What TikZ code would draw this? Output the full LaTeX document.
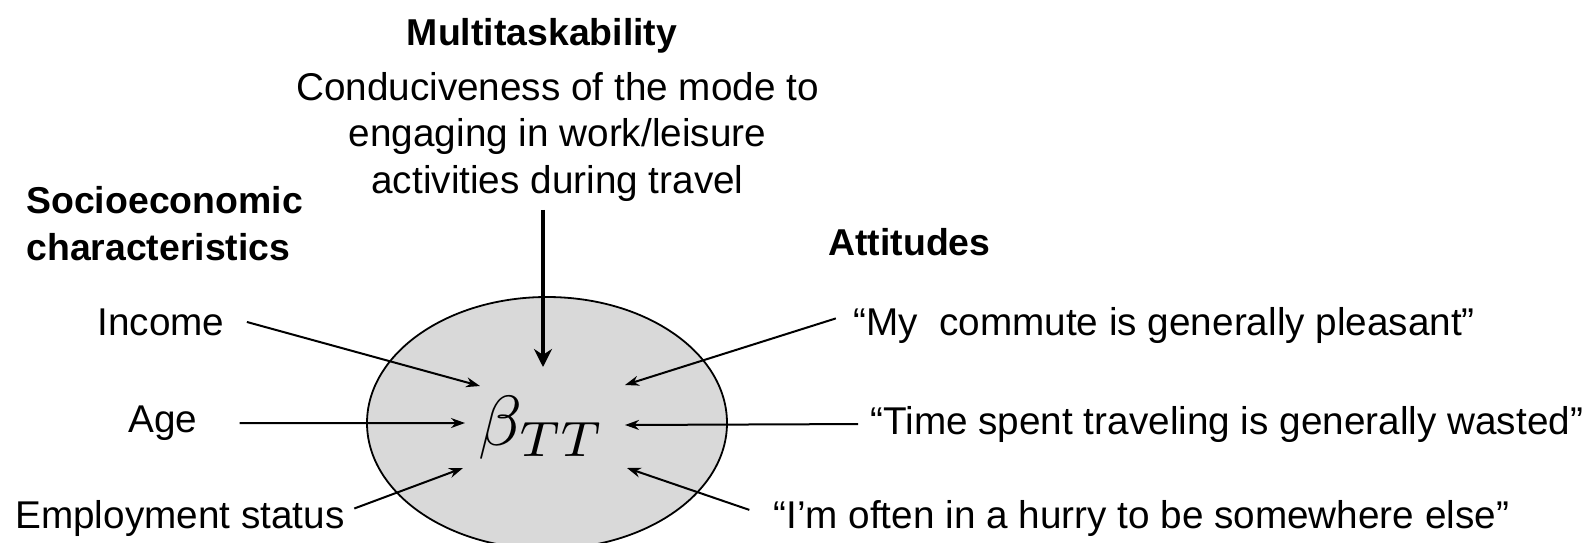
\documentclass[tikz,border=0pt]{standalone}
\usepackage{amsmath}
\usepackage{graphicx}
\usepackage{fontspec}
\setmainfont{Liberation Sans}
\usetikzlibrary{arrows.meta,shapes.geometric}

\begin{document}
\begin{tikzpicture}[x=0.5pt,y=-0.5pt,
    txt/.style={font=\fontsize{19.35}{23.25}\selectfont,inner sep=0pt},
    hdr/.style={font=\fontsize{18.7}{23.5}\selectfont\bfseries,inner sep=0pt},
    feed/.style={line width=1pt,-{Stealth[length=7pt,width=5pt]}},
    mfeed/.style={line width=2.2pt,-{Stealth[length=9pt,width=9pt]}}]
\useasboundingbox (0,0) rectangle (1592,542);
\node[ellipse,draw,line width=0.9pt,fill=gray!30,minimum width=180pt,minimum height=126pt,inner sep=0pt] (oval) at (547,423) {};
\node[inner sep=0pt] (beta) at (542,428) {\scalebox{3.55}{$\beta_{TT}$}};
\node[hdr,anchor=base] (multi) at (542,45) {Multitaskability};
\node[txt,align=center,anchor=north] (cond) at (557.5,72) {Conduciveness of the mode to\\engaging in work/leisure\\activities during travel};
\node[hdr,align=left,anchor=north west] (socio) at (26,186) {Socioeconomic\\characteristics};
\node[hdr,anchor=base west] (att) at (828,255) {Attitudes};
\node[txt,anchor=base west] (inc) at (97,335) {Income};
\node[txt,anchor=base west] (age) at (128,432.5) {Age};
\node[txt,anchor=base west] (emp) at (15,528) {Employment status};
\node[txt,anchor=base west] (com) at (853,335) {“My~ commute is generally pleasant”};
\node[txt,anchor=base west] (tim) at (870,434) {“Time spent traveling is generally wasted”};
\node[txt,anchor=base west] (hur) at (773,528) {“I’m often in a hurry to be somewhere else”};
\coordinate (tInc) at (480,386);
\coordinate (tAge) at (465,423);
\coordinate (tEmp) at (463,468);
\coordinate (tMul) at (543,367);
\coordinate (tCom) at (625,385);
\coordinate (tTim) at (625,425);
\coordinate (tHur) at (627,468);
\path[mfeed] (cond.south -| tMul) edge[shorten <=4pt] (tMul);
\path[feed] ([yshift=3pt]inc.east) edge[shorten <=11.5pt] (tInc);
\path[feed] (age.east) edge[shorten <=21pt] (tAge);
\path[feed] ([yshift=3pt]emp.east) edge[shorten <=5pt] (tEmp);
\path[feed] ([yshift=6pt]com.west) edge[shorten <=9pt] (tCom);
\path[feed] (tim.west) edge[shorten <=6pt] (tTim);
\path[feed] (hur.west) edge[shorten <=12.5pt] (tHur);
\end{tikzpicture}
\end{document}
